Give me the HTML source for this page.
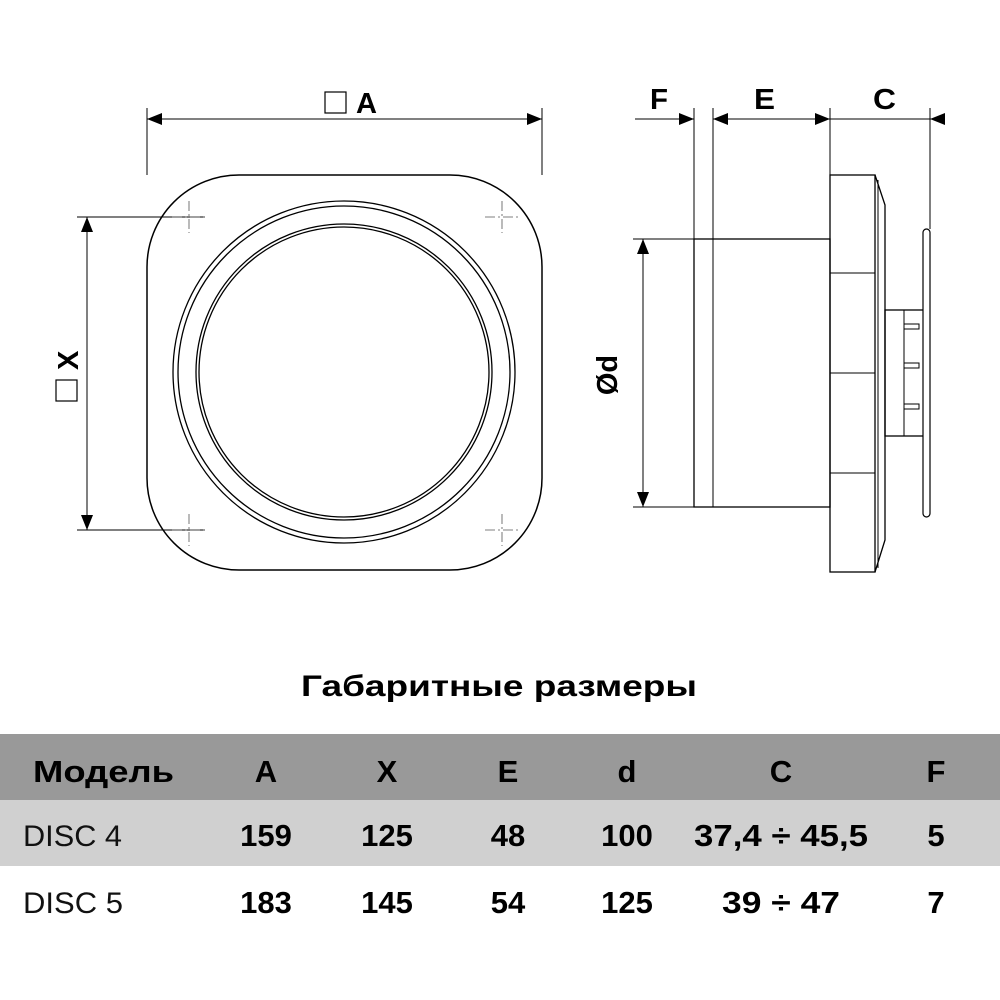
<!DOCTYPE html>
<html><head><meta charset="utf-8"><style>
body{margin:0;background:#fff;width:1000px;height:1000px;overflow:hidden;font-family:"Liberation Sans",sans-serif}
svg{position:absolute;left:0;top:0}
</style></head><body>
<svg width="1000" height="1000" viewBox="0 0 1000 1000">
<defs>
<marker id="ar" viewBox="0 0 10 10" refX="10" refY="5" markerWidth="15" markerHeight="15" markerUnits="userSpaceOnUse" orient="auto-start-reverse"><path d="M0,1 L10,5 L0,9 z" fill="#000"/></marker>
</defs>
<g fill="none" stroke="#000" stroke-width="1">
<line x1="147" y1="108" x2="147" y2="175"/><line x1="542" y1="108" x2="542" y2="175"/>
<line x1="147" y1="119" x2="542" y2="119" marker-start="url(#ar)" marker-end="url(#ar)"/>
<line x1="77" y1="217" x2="205" y2="217"/><line x1="77" y1="530" x2="205" y2="530"/>
<line x1="87" y1="217" x2="87" y2="530" marker-start="url(#ar)" marker-end="url(#ar)"/>
<rect x="147" y="175" width="395" height="395" rx="92" ry="92" stroke-width="1.5"/>
<circle cx="344" cy="372" r="171" stroke-width="1.3"/>
<circle cx="344" cy="372" r="166" stroke-width="1.3"/>
<circle cx="344" cy="372" r="148" stroke-width="1.3"/>
<circle cx="344" cy="372" r="145" stroke-width="1.3"/>
<g stroke="#555" stroke-dasharray="10,3,2,3" stroke-width="0.8">
<line x1="189" y1="201" x2="189" y2="233"/><line x1="172" y1="217" x2="205" y2="217"/>
<line x1="502" y1="201" x2="502" y2="233"/><line x1="485" y1="217" x2="518" y2="217"/>
<line x1="189" y1="514" x2="189" y2="546"/><line x1="172" y1="530" x2="205" y2="530"/>
<line x1="502" y1="514" x2="502" y2="546"/><line x1="485" y1="530" x2="518" y2="530"/>
</g>
<rect x="325" y="92" width="21" height="21" stroke-width="1.2"/>
<rect x="56" y="380" width="21" height="21" stroke-width="1.2"/>
<line x1="694" y1="108" x2="694" y2="239"/><line x1="713" y1="108" x2="713" y2="239"/>
<line x1="830" y1="108" x2="830" y2="175"/><line x1="930" y1="108" x2="930" y2="229"/>
<line x1="635" y1="119" x2="694" y2="119" marker-end="url(#ar)"/>
<line x1="713" y1="119" x2="830" y2="119" marker-start="url(#ar)" marker-end="url(#ar)"/>
<line x1="830" y1="119" x2="945" y2="119"/>
<line x1="945" y1="119" x2="930" y2="119" marker-end="url(#ar)"/>
<line x1="633" y1="239" x2="694" y2="239"/><line x1="633" y1="507" x2="694" y2="507"/>
<line x1="643" y1="239" x2="643" y2="507" marker-start="url(#ar)" marker-end="url(#ar)"/>
<rect x="694" y="239" width="136" height="268" stroke-width="1.3"/>
<line x1="713" y1="239" x2="713" y2="507"/>
<rect x="830" y="175" width="45" height="397" stroke-width="1.3"/>
<line x1="830" y1="273" x2="875" y2="273"/><line x1="830" y1="373" x2="875" y2="373"/><line x1="830" y1="473" x2="875" y2="473"/>
<path d="M875,175 L885,205 L885,540 L875,572" stroke-width="1.3"/>
<line x1="878" y1="180" x2="878" y2="568"/>
<rect x="885" y="310" width="39" height="126" stroke-width="1.3"/>
<line x1="904" y1="310" x2="904" y2="436"/>
<rect x="904" y="324" width="15" height="5"/><rect x="904" y="363" width="15" height="5"/><rect x="904" y="404" width="15" height="5"/>
<rect x="923" y="229" width="7" height="288" rx="3.5" fill="#fff" stroke-width="1.2"/>
</g>
<g font-weight="bold" fill="#000" font-size="29">
<text x="356" y="113" textLength="21" lengthAdjust="spacingAndGlyphs">A</text>
<text x="650" y="109" textLength="18" lengthAdjust="spacingAndGlyphs">F</text>
<text x="754" y="109" textLength="21" lengthAdjust="spacingAndGlyphs">E</text>
<text x="873" y="109" textLength="23" lengthAdjust="spacingAndGlyphs">C</text>
<text transform="translate(78,370) rotate(-90)" x="0" y="0">X</text>
<text transform="translate(617,375) rotate(-90)" text-anchor="middle">Ød</text>
</g>
<text x="301" y="696" font-size="30" font-weight="bold" textLength="396" lengthAdjust="spacingAndGlyphs">Габаритные размеры</text>
<rect x="0" y="734" width="1000" height="66" fill="#999"/>
<rect x="0" y="800" width="1000" height="66" fill="#d0d0d0"/>
<g font-size="31" font-weight="bold" text-anchor="middle">
<text x="33" y="782" text-anchor="start" textLength="141" lengthAdjust="spacingAndGlyphs">Модель</text>
<text x="266" y="782">A</text><text x="387" y="782">X</text><text x="508" y="782">E</text><text x="627" y="782">d</text><text x="781" y="782">C</text><text x="936" y="782">F</text>
<text x="266" y="846">159</text><text x="387" y="846">125</text><text x="508" y="846">48</text><text x="627" y="846">100</text><text x="781" y="846" textLength="174" lengthAdjust="spacingAndGlyphs">37,4 ÷ 45,5</text><text x="936" y="846">5</text>
<text x="266" y="913">183</text><text x="387" y="913">145</text><text x="508" y="913">54</text><text x="627" y="913">125</text><text x="781" y="913" textLength="118" lengthAdjust="spacingAndGlyphs">39 ÷ 47</text><text x="936" y="913">7</text>
</g>
<g font-size="30" fill="#111">
<text x="23" y="846" textLength="99" lengthAdjust="spacingAndGlyphs">DISC 4</text>
<text x="23" y="913" textLength="100" lengthAdjust="spacingAndGlyphs">DISC 5</text>
</g>
</svg>
</body></html>
